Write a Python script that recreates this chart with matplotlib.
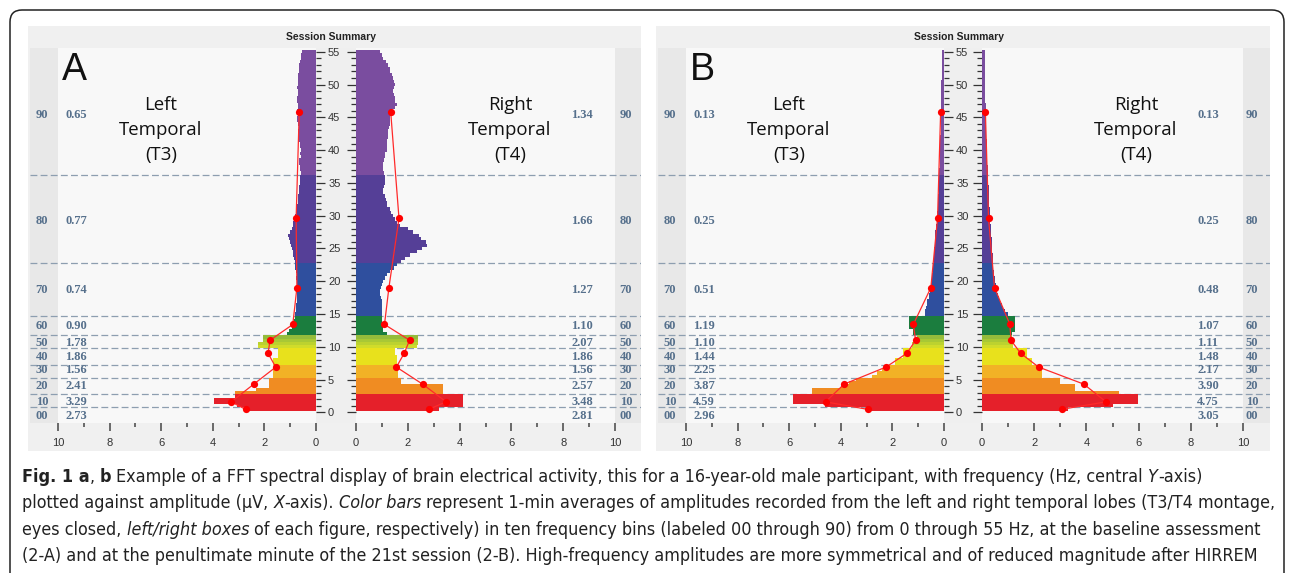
import os
import numpy as np
import matplotlib
matplotlib.use('Agg')
import matplotlib.pyplot as plt
from matplotlib.patches import Rectangle, FancyBboxPatch
from matplotlib.transforms import IdentityTransform
from matplotlib.ticker import FixedLocator
from matplotlib import font_manager as fm

# ---------------------------------------------------------------- data
bin_codes = ['00', '10', '20', '30', '40', '50', '60', '70', '80', '90']
bin_bounds = [0.75, 2.75, 5.25, 7.25, 9.75, 11.75, 14.75, 22.75, 36.25]
bars_per_bin = [1, 4, 5, 4, 5, 4, 6, 16, 27, 38]
bar_freqs = list(np.arange(0.5, 55.01, 0.5))
dot_freqs = [0.45, 1.6, 4.3, 6.9, 9.0, 11.0, 13.4, 19.0, 29.6, 45.8]

A_left_avg = [2.73, 3.29, 2.41, 1.56, 1.86, 1.78, 0.90, 0.74, 0.77, 0.65]
A_right_avg = [2.81, 3.48, 2.57, 1.56, 1.86, 2.07, 1.10, 1.27, 1.66, 1.34]
B_left_avg = [2.96, 4.59, 3.87, 2.25, 1.44, 1.10, 1.19, 0.51, 0.25, 0.13]
B_right_avg = [3.05, 4.75, 3.90, 2.17, 1.48, 1.11, 1.07, 0.48, 0.25, 0.13]

A_left_bars = (
    [2.60]
    + [3.05, 3.95, 3.95, 3.14]
    + [3.14, 2.32, 1.82, 1.82, 1.82]
    + [1.65, 1.65, 1.65, 1.60]
    + [1.65, 1.65, 1.46, 1.46, 1.46]
    + [2.25, 2.25, 2.05, 2.05]
    + [1.13, 1.05, 0.94, 0.94, 0.85, 0.81]
    + [0.80, 0.78, 0.78, 0.76, 0.75, 0.75, 0.75, 0.74, 0.75, 0.75, 0.75, 0.76, 0.75, 0.78, 0.80, 0.81]
    + [0.81, 0.84, 0.88, 0.90, 0.94, 0.96, 1.00, 1.05, 1.07, 1.02, 0.94, 0.90, 0.88, 0.85, 0.82,
       0.78, 0.74, 0.72, 0.71, 0.70, 0.68, 0.66, 0.65, 0.64, 0.62, 0.62, 0.62]
    + [0.60, 0.62, 0.62, 0.65, 0.65, 0.60, 0.62, 0.60, 0.62, 0.63, 0.65, 0.68, 0.69, 0.69, 0.66,
       0.69, 0.72, 0.72, 0.70, 0.72, 0.70, 0.69, 0.72, 0.72, 0.70, 0.69, 0.72, 0.70, 0.69, 0.69,
       0.69, 0.67, 0.65, 0.64, 0.62, 0.60, 0.57, 0.55]
)
A_right_bars = (
    [3.20]
    + [4.14, 4.14, 4.14, 4.14]
    + [3.37, 3.37, 3.37, 1.73, 1.73]
    + [1.64, 1.64, 1.64, 1.64]
    + [1.57, 1.57, 1.57, 1.50, 1.50]
    + [2.35, 2.41, 2.41, 2.41]
    + [1.18, 1.05, 1.05, 1.05, 1.00, 0.99]
    + [0.99, 0.99, 1.00, 1.00, 0.99, 0.97, 0.93, 0.93, 0.96, 0.99, 1.05, 1.12, 1.20, 1.31, 1.45, 1.57]
    + [1.75, 1.89, 2.10, 2.34, 2.55, 2.73, 2.70, 2.50, 2.45, 2.20, 2.02, 1.70, 1.57, 1.50, 1.44,
       1.35, 1.31, 1.20, 1.18, 1.15, 1.12, 1.05, 1.05, 1.08, 1.12, 1.12, 1.12]
    + [1.10, 1.05, 1.05, 1.05, 1.10, 1.12, 1.12, 1.18, 1.18, 1.18, 1.20, 1.25, 1.25, 1.25, 1.28,
       1.31, 1.31, 1.31, 1.35, 1.38, 1.50, 1.57, 1.50, 1.50, 1.45, 1.44, 1.48, 1.50, 1.47, 1.44,
       1.38, 1.31, 1.30, 1.25, 1.15, 1.05, 1.00, 0.93]
)
B_left_bars = (
    [3.00]
    + [4.60, 5.85, 5.85, 5.85]
    + [5.10, 5.10, 4.00, 3.70, 3.40]
    + [2.80, 2.60, 2.40, 2.30]
    + [1.90, 1.90, 1.57, 1.57, 1.57]
    + [1.25, 1.25, 1.06, 1.06]
    + [1.20, 1.20, 1.34, 1.34, 1.34, 1.34]
    + [0.74, 0.72, 0.70, 0.67, 0.64, 0.60, 0.57, 0.54, 0.52, 0.50, 0.48, 0.46, 0.45, 0.44, 0.43, 0.42]
    + [0.40, 0.40, 0.39, 0.38, 0.37, 0.36, 0.35, 0.35, 0.34, 0.33, 0.31, 0.30, 0.28, 0.27, 0.26,
       0.26, 0.25, 0.24, 0.23, 0.23, 0.22, 0.21, 0.21, 0.20, 0.19, 0.19, 0.18]
    + [0.18, 0.18, 0.17, 0.17, 0.16, 0.16, 0.16, 0.15, 0.15, 0.14, 0.14, 0.14, 0.13, 0.13, 0.13,
       0.12, 0.12, 0.12, 0.12, 0.11, 0.11, 0.11, 0.11, 0.10, 0.10, 0.10, 0.10, 0.10, 0.10, 0.09,
       0.09, 0.09, 0.09, 0.09, 0.09, 0.09, 0.09, 0.09]
)
B_right_bars = (
    [3.30]
    + [5.00, 5.99, 5.99, 5.99]
    + [5.26, 3.56, 3.56, 2.99, 2.99]
    + [2.29, 2.29, 2.29, 2.29]
    + [1.90, 1.90, 1.71, 1.71, 1.71]
    + [1.20, 1.20, 1.20, 1.14]
    + [1.14, 1.26, 1.26, 1.26, 1.26, 1.26]
    + [1.00, 0.90, 0.80, 0.75, 0.70, 0.66, 0.62, 0.58, 0.55, 0.52, 0.50, 0.49, 0.47, 0.46, 0.44, 0.43]
    + [0.43, 0.42, 0.41, 0.40, 0.39, 0.38, 0.37, 0.37, 0.36, 0.35, 0.34, 0.33, 0.32, 0.31, 0.31,
       0.30, 0.29, 0.28, 0.28, 0.27, 0.26, 0.26, 0.25, 0.25, 0.24, 0.24, 0.24]
    + [0.23, 0.22, 0.22, 0.21, 0.21, 0.20, 0.20, 0.19, 0.19, 0.18, 0.18, 0.17, 0.17, 0.16, 0.16,
       0.16, 0.15, 0.15, 0.15, 0.14, 0.14, 0.14, 0.13, 0.13, 0.13, 0.13, 0.12, 0.12, 0.12, 0.12,
       0.12, 0.11, 0.11, 0.11, 0.11, 0.11, 0.11, 0.11]
)

x_major = [0, 2, 4, 6, 8, 10]
x_minor = [1, 3, 5, 7, 9]
y_major = list(range(0, 56, 5))
y_minor = [v for v in range(0, 56) if v % 5]

# caption: (text, style) with style r = regular, b = bold, i = italic
caption_lines = [
    [("Fig. 1 a", 'b'), (", ", 'r'), ("b", 'b'),
     (" Example of a FFT spectral display of brain electrical activity, this for a 16-year-old male participant, with frequency (Hz, central ", 'r'),
     ("Y", 'i'), ("-axis)", 'r')],
    [("plotted against amplitude (µV, ", 'r'), ("X", 'i'), ("-axis). ", 'r'), ("Color bars", 'i'),
     (" represent 1-min averages of amplitudes recorded from the left and right temporal lobes (T3/T4 montage,", 'r')],
    [("eyes closed, ", 'r'), ("left/right boxes", 'i'),
     (" of each figure, respectively) in ten frequency bins (labeled 00 through 90) from 0 through 55 Hz, at the baseline assessment", 'r')],
    [("(2-A) and at the penultimate minute of the 21st session (2-B). High-frequency amplitudes are more symmetrical and of reduced magnitude after HIRREM", 'r')],
]

# ---------------------------------------------------------------- style
bin_colors = {
    '00': ['#e5202a'], '10': ['#e5202a'], '20': ['#f08c22'], '30': ['#f2b226'],
    '40': ['#e8e11c'], '50': ['#d0dc2a', '#bcd22f', '#a8c835', '#95bc3b'],
    '60': ['#1b7d3e'], '70': ['#2f4f9e'], '80': ['#553f97'], '90': ['#7a4d9f'],
}
label_freqs = [-0.5, 1.5, 4.0, 6.5, 8.5, 10.5, 13.1, 18.6, 29.2, 45.4]

plt.rcParams['font.family'] = ['Liberation Sans', 'DejaVu Sans']
names = {f.name for f in fm.fontManager.ttflist}
title_family = 'Open Sans' if 'Open Sans' in names else 'DejaVu Sans'

W, H = 1292, 573
fig = plt.figure(figsize=(W / 100, H / 100), dpi=100)
fig.patch.set_facecolor('white')


def X(px):
    return px / W


def Y(py):
    return 1 - py / H


def add_rect(x0, y0, x1, y1, color, z=-2):
    fig.add_artist(Rectangle((X(x0), Y(y1)), X(x1) - X(x0), Y(y0) - Y(y1),
                             transform=fig.transFigure, facecolor=color,
                             edgecolor='none', zorder=z))


bar_colors = []
for code, n in zip(bin_codes, bars_per_bin):
    cl = bin_colors[code]
    for i in range(n):
        bar_colors.append(cl[min(i, len(cl) - 1)])

Y_TOP, Y_BOT = 47.5, 423.0
YLIM = (-1.63, 55.65)
LBL_COLOR = '#56708c'


def style_axis(ax, side):
    ax.set_facecolor('#f8f8f8')
    for s in ax.spines.values():
        s.set_visible(False)
    ax.set_ylim(*YLIM)
    ax.yaxis.set_major_locator(FixedLocator(y_major))
    ax.yaxis.set_minor_locator(FixedLocator(y_minor))
    ax.xaxis.set_major_locator(FixedLocator(x_major))
    ax.xaxis.set_minor_locator(FixedLocator(x_minor))
    if side == 'left':
        ax.yaxis.tick_right()
        ax.tick_params(axis='y', which='major', labelright=True, labelleft=False)
    else:
        ax.yaxis.tick_left()
        ax.tick_params(axis='y', which='major', labelleft=False)
    ax.tick_params(axis='y', which='major', direction='out', length=6.5, width=0.9,
                   color='#333333', labelsize=8, labelcolor='#333333', pad=2.2)
    ax.tick_params(axis='y', which='minor', direction='out', length=3.6, width=0.9,
                   color='#333333')
    ax.tick_params(axis='x', which='major', direction='out', length=5.5, width=1.1,
                   color='#444444', labelsize=8, labelcolor='#333333', pad=5)
    ax.tick_params(axis='x', which='minor', direction='out', length=3.0, width=1.1,
                   color='#444444')


def draw_side(ax, bars, avgs, far, code_px, val_px, to_data):
    ax.axvspan(10, far, color='#e8e8e8', lw=0, zorder=0.5)
    for b in bin_bounds:
        ax.axhline(b, color='#8d9eb0', lw=0.9, dashes=(5.5, 2.6), zorder=1)
    ax.barh(bar_freqs, bars, height=0.5, color=bar_colors, linewidth=0, zorder=2)
    ax.plot(avgs, dot_freqs, color='#ff2a2a', lw=0.9, zorder=3)
    ax.plot(avgs, dot_freqs, 'o', color='#ff0000', ms=5.2, mew=0, zorder=4)
    for code, v, f in zip(bin_codes, avgs, label_freqs):
        ax.text(to_data(code_px), f, code, ha='center', va='center', fontsize=9,
                family='Liberation Serif', weight='bold', color=LBL_COLOR, zorder=5)
        ax.text(to_data(val_px), f, f'{v:.2f}', ha='left', va='center', fontsize=9,
                family='Liberation Serif', weight='bold', color=LBL_COLOR, zorder=5)


panels = [
    dict(letter='A', lx0=30, l0=316, r0=356, rx1=641, lunit=25.8, runit=25.9,
         left=A_left_bars, right=A_right_bars, lavg=A_left_avg, ravg=A_right_avg),
    dict(letter='B', lx0=658, l0=944, r0=982, rx1=1270, lunit=25.8, runit=26.1,
         left=B_left_bars, right=B_right_bars, lavg=B_left_avg, ravg=B_right_avg),
]

for p in panels:
    lx0, l0, r0, rx1 = p['lx0'], p['l0'], p['r0'], p['rx1']
    lu, ru = p['lunit'], p['runit']
    add_rect(lx0 - 2, 26, rx1, 451, '#f0f0f0')
    add_rect(l0, Y_TOP, r0, Y_BOT, '#efefef', z=-1)

    axL = fig.add_axes([X(lx0), Y(Y_BOT), X(l0) - X(lx0), Y(Y_TOP) - Y(Y_BOT)])
    farL = (l0 - lx0) / lu
    axL.set_xlim(farL, 0)
    style_axis(axL, 'left')
    draw_side(axL, p['left'], p['lavg'], farL, lx0 + 12, lx0 + 35,
              lambda px, l0=l0, lu=lu: (l0 - px) / lu)

    axR = fig.add_axes([X(r0), Y(Y_BOT), X(rx1) - X(r0), Y(Y_TOP) - Y(Y_BOT)])
    farR = (rx1 - r0) / ru
    axR.set_xlim(0, farR)
    style_axis(axR, 'right')
    draw_side(axR, p['right'], p['ravg'], farR, r0 + 270, r0 + 215,
              lambda px, r0=r0, ru=ru: (px - r0) / ru)

    fig.text(X(l0 + 15), Y(40), 'Session Summary', ha='center', va='baseline',
             fontsize=7.5, weight='bold', color='#222222')
    fig.text(X(lx0 + 32), Y(80), p['letter'], ha='left', va='baseline',
             fontsize=27, color='#111111')
    for cx, lines in ((l0 - 155, ['Left', 'Temporal', '(T3)']),
                      (r0 + 154, ['Right', 'Temporal', '(T4)'])):
        for ln, by in zip(lines, (110, 135, 160)):
            fig.text(X(cx), Y(by), ln, ha='center', va='baseline', fontsize=13.4,
                     family=title_family, color='#111111')

frame = FancyBboxPatch((10, -40), 1274, 573 - 10 + 40, boxstyle='round,pad=0,rounding_size=12',
                       transform=IdentityTransform(), facecolor='none', edgecolor='#222222',
                       linewidth=1.1, zorder=10)
fig.add_artist(frame)

# ---------------------------------------------------------------- caption (rich text)
files = {os.path.basename(f.fname): f.fname for f in fm.fontManager.ttflist}
cap_sets = [
    {'r': 'LiberationSansNarrow-Regular.ttf', 'b': 'LiberationSansNarrow-Bold.ttf',
     'i': 'LiberationSansNarrow-Italic.ttf'},
    {'r': 'DejaVuSansCondensed.ttf', 'b': 'DejaVuSansCondensed-Bold.ttf',
     'i': 'DejaVuSansCondensed-Oblique.ttf'},
]
fprops = None
for cs in cap_sets:
    if all(v in files for v in cs.values()):
        fprops = {k: fm.FontProperties(fname=files[v]) for k, v in cs.items()}
        break
if fprops is None:
    fprops = {'r': fm.FontProperties(family='Liberation Sans'),
              'b': fm.FontProperties(family='Liberation Sans', weight='bold'),
              'i': fm.FontProperties(family='Liberation Sans', style='italic')}

renderer = fig.canvas.get_renderer()
_cache = {}


def text_w(s, style, size):
    key = (s, style, size)
    if key not in _cache:
        fp = fprops[style].copy()
        fp.set_size(size)
        t = fig.text(0, 0, s, fontproperties=fp)
        _cache[key] = t.get_window_extent(renderer=renderer).width
        t.remove()
    return _cache[key]


def seg_w(s, style, size):
    return text_w('H' + s + 'H', style, size) - text_w('HH', style, size)


def line_w(line, size):
    return sum(seg_w(s, st, size) for s, st in line)


base = 12.0
fs = base * 1200.0 / line_w(caption_lines[0], base)
mx = max(line_w(l, fs) for l in caption_lines)
if mx > 1258:
    fs *= 1258.0 / mx

for i, line in enumerate(caption_lines):
    x = 22.0
    by = 482 + 26.3 * i
    for s, st in line:
        lead = len(s) - len(s.lstrip(' '))
        trail = len(s) - len(s.rstrip(' '))
        core = s.strip(' ')
        sp = seg_w(' ', st, fs)
        x += lead * sp
        if core:
            fp = fprops[st].copy()
            fp.set_size(fs)
            fig.text(X(x), Y(by), core, ha='left', va='baseline', fontproperties=fp,
                     color='#222222')
            x += seg_w(core, st, fs)
        x += trail * sp

fig.savefig('out.png', dpi=100, facecolor='white')
